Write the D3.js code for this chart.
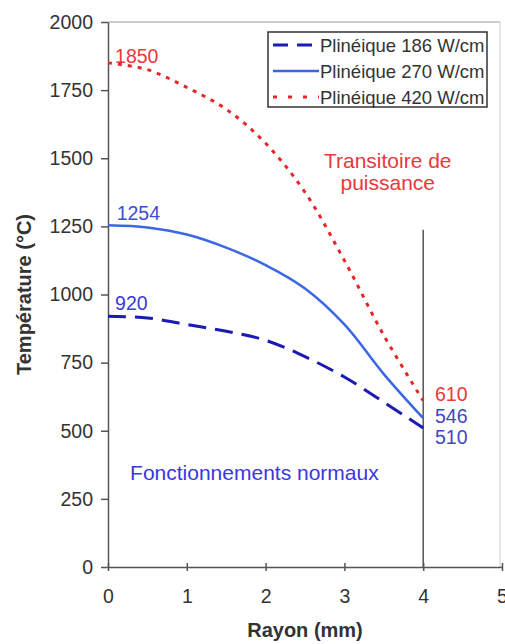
<!DOCTYPE html>
<html>
<head>
<meta charset="utf-8">
<script src="https://cdn.jsdelivr.net/npm/d3@7"></script>
<style>
  body { margin: 0; background: #fff; }
  svg { display: block; font-family: "Liberation Sans", Arial, sans-serif; }
  .axis path, .axis line { stroke: #555; stroke-width: 1.5; }
  .axis text { font-size: 19.5px; fill: #333; }
</style>
</head>
<body>
<div id="chart"></div>
<script>
// Radius (mm) and temperature profiles (°C)
const rayon = [0, 0.5, 1, 1.5, 2, 2.5, 3, 3.5, 4];
const p186 = [920, 914, 890, 865, 832, 772, 697, 605, 510];
const p270 = [1254, 1246, 1220, 1172, 1108, 1022, 890, 708, 546];
const p420 = [1850, 1825, 1760, 1680, 1555, 1375, 1125, 850, 610];
const xTicks = [0, 1, 2, 3, 4, 5];
const yTicks = [0, 250, 500, 750, 1000, 1250, 1500, 1750, 2000];

const series = [
  { name: 'Plinéique 186 W/cm', values: p186, color: '#1a1ab4', width: 3, dash: '18,9', legDash: '15,9' },
  { name: 'Plinéique 270 W/cm', values: p270, color: '#3a68e4', width: 2.5, dash: null, legDash: null },
  { name: 'Plinéique 420 W/cm', values: p420, color: '#e8262a', width: 3, dash: '4,6', legDash: '4,11' }
];

const width = 505, height = 644;
const margin = { top: 22, right: 3, bottom: 77, left: 108 };
const inner = { width: width - margin.left - margin.right, height: height - margin.top - margin.bottom };

const svg = d3.select('#chart').append('svg')
  .attr('width', width).attr('height', height);

const g = svg.append('g').attr('transform', `translate(${margin.left},${margin.top})`);

const x = d3.scaleLinear().domain([0, 5]).range([0, inner.width]);
const y = d3.scaleLinear().domain([0, 2000]).range([inner.height, 0]);

// frame (top and right)
g.append('line').attr('x1', 0).attr('x2', x(5) - 2).attr('y1', 0).attr('y2', 0)
  .style('stroke', '#999').style('stroke-width', 1);
g.append('line').attr('x1', x(5) - 2).attr('x2', x(5) - 2).attr('y1', 0).attr('y2', inner.height)
  .style('stroke', '#ccc').style('stroke-width', 1);

const xAxis = g.append('g').attr('class', 'axis').attr('transform', `translate(0,${inner.height})`)
  .call(d3.axisBottom(x).tickValues(xTicks).tickFormat(d3.format('d'))
    .tickSizeInner(4).tickSizeOuter(0).tickPadding(18));
xAxis.selectAll('.tick line').attr('y1', -4);

g.append('g').attr('class', 'axis')
  .call(d3.axisLeft(y).tickValues(yTicks).tickFormat(d3.format('d'))
    .tickSizeInner(7).tickSizeOuter(0).tickPadding(8));

// boundary at r = 4 mm
g.append('line')
  .attr('x1', x(4)).attr('x2', x(4)).attr('y1', y(1238)).attr('y2', inner.height)
  .style('stroke', '#555').style('stroke-width', 1.5);

const line = d3.line().x((d, i) => x(rayon[i])).y(d => y(d)).curve(d3.curveCatmullRom.alpha(0.5));

series.forEach(s => {
  g.append('path').datum(s.values)
    .attr('d', line)
    .style('fill', 'none')
    .style('stroke', s.color)
    .style('stroke-width', s.width)
    .style('stroke-dasharray', s.dash);
});

// value labels
const labels = [
  { t: '1850', x: 0.09, y: 1850, c: '#e8383a', dy: 0 },
  { t: '1254', x: 0.11, y: 1254, c: '#3a4ed4', dy: -5 },
  { t: '920', x: 0.09, y: 920, c: '#3a3ad4', dy: -6 },
  { t: '610', x: 4.15, y: 610, c: '#e8383a', dy: 0 },
  { t: '546', x: 4.15, y: 546, c: '#4444c4', dy: 5 },
  { t: '510', x: 4.15, y: 510, c: '#4444c4', dy: 16 }
];
g.selectAll('.vlabel').data(labels).enter().append('text')
  .attr('x', d => x(d.x))
  .attr('y', d => y(d.y) + d.dy)
  .style('font-size', '19.5px')
  .style('fill', d => d.c)
  .text(d => d.t);

// annotations
g.append('text').attr('x', x(3.55)).attr('y', y(1466))
  .attr('text-anchor', 'middle').style('font-size', '21px').style('fill', '#e8383a')
  .text('Transitoire de');
g.append('text').attr('x', x(3.55)).attr('y', y(1385))
  .attr('text-anchor', 'middle').style('font-size', '21px').style('fill', '#e8383a')
  .text('puissance');
g.append('text').attr('x', x(0.28)).attr('y', y(319))
  .style('font-size', '21px').style('fill', '#3838e0')
  .text('Fonctionnements normaux');

// legend
const legend = svg.append('g').attr('transform', 'translate(268,32)');
legend.append('rect').attr('width', 219).attr('height', 75)
  .style('fill', '#fff').style('stroke', '#333').style('stroke-width', 1.5);
series.forEach((s, i) => {
  const row = legend.append('g').attr('transform', `translate(0,${13 + i * 26})`);
  row.append('line').attr('x1', 5).attr('x2', 51).attr('y1', 0).attr('y2', 0)
    .style('stroke', s.color).style('stroke-width', s.width)
    .style('stroke-dasharray', s.legDash);
  row.append('text').attr('x', 52).attr('y', 6.5)
    .style('font-size', '18.5px').style('fill', '#333').text(s.name);
});

// axis titles
svg.append('text')
  .attr('transform', `translate(31,${margin.top + inner.height / 2}) rotate(-90)`)
  .attr('text-anchor', 'middle')
  .style('font-size', '20px').style('font-weight', 'bold').style('fill', '#333')
  .text('Température (°C)');
svg.append('text')
  .attr('x', margin.left + inner.width / 2).attr('y', 637)
  .attr('text-anchor', 'middle')
  .style('font-size', '20px').style('font-weight', 'bold').style('fill', '#333')
  .text('Rayon (mm)');
</script>
</body>
</html>
